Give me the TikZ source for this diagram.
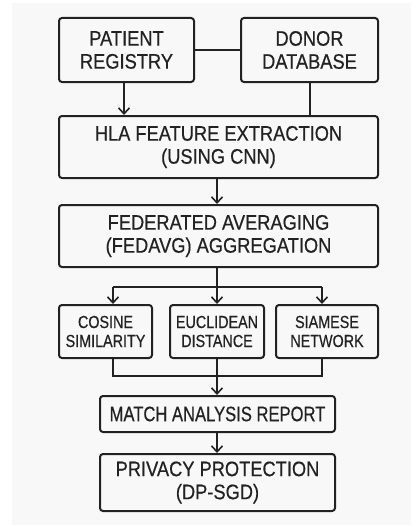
\documentclass[tikz,border=0pt]{standalone}
\usepackage{fontspec}
\setmainfont{Liberation Sans}[FakeStretch=0.87,FakeBold=0.5]
\newfontfamily\narrowfont{Liberation Sans}[FakeStretch=0.79,FakeBold=0.5]
\newfontfamily\smallfont{Liberation Sans}[FakeStretch=0.82,FakeBold=0.5]
\usetikzlibrary{arrows.meta}
\definecolor{ink}{HTML}{222222}
\definecolor{bg}{HTML}{F8F8F8}
\tikzset{
  box/.style={draw=ink, line width=2pt, rounded corners=3pt, align=center, inner sep=0pt, text=ink},
  bigtxt/.style={font=\fontsize{21}{23}\selectfont},
  matchtxt/.style={font=\narrowfont\fontsize{21}{23}\selectfont},
  smalltxt/.style={font=\smallfont\fontsize{17.5}{19}\selectfont},
  conn/.style={draw=ink, line width=2pt},
  arr/.style={conn, -{Straight Barb[length=6pt,width=11pt,line width=1.6pt]}},
}
\begin{document}
\begin{tikzpicture}[x=1pt,y=-1pt]
\useasboundingbox (0,0) rectangle (411,527);
\fill[white] (0,0) rectangle (411,527);
\fill[bg] (12,3) rectangle (411,525);
% boxes
\node[box,bigtxt,minimum width=135pt,minimum height=64pt] (pat) at (126.5,50) {PATIENT\\REGISTRY};
\node[box,bigtxt,minimum width=137pt,minimum height=64pt] (don) at (309.5,50) {DONOR\\DATABASE};
\node[box,bigtxt,minimum width=319pt,minimum height=62pt] (hla) at (218.5,147) {HLA FEATURE EXTRACTION\\(USING CNN)};
\node[box,bigtxt,minimum width=319pt,minimum height=62pt] (fed) at (218.5,236) {FEDERATED AVERAGING\\(FEDAVG) AGGREGATION};
\node[box,smalltxt,minimum width=93pt,minimum height=53pt] (cos) at (105.5,331.5) {COSINE\\SIMILARITY};
\node[box,smalltxt,minimum width=94pt,minimum height=53pt] (euc) at (217,331.5) {EUCLIDEAN\\DISTANCE};
\node[box,smalltxt,minimum width=102pt,minimum height=53pt] (sia) at (327,331.5) {SIAMESE\\NETWORK};
\node[box,matchtxt,minimum width=235pt,minimum height=36pt] (mat) at (217.5,414) {MATCH ANALYSIS REPORT};
\node[box,bigtxt,minimum width=235pt,minimum height=57pt] (pri) at (217.5,482.5) {PRIVACY PROTECTION\\(DP-SGD)};
% helper coordinates
\coordinate (b1) at (217,287);
\coordinate (bl) at (113,287);
\coordinate (br) at (322,287);
\coordinate (m1) at (217,376);
\coordinate (ml) at (113,376);
\coordinate (mr) at (322,376);
% connectors
\draw[conn] (pat.east) -- (don.west);
\draw[arr] (pat.south -| 124,0) -- (hla.north -| 124,0);
\draw[conn] (don.south -| 310,0) -- (hla.north -| 310,0);
\draw[arr] (hla.south -| b1) -- (fed.north -| b1);
\draw[conn] (fed.south -| b1) -- (b1);
\draw[conn] (bl) -- (br);
\draw[arr] (bl) -- (cos.north -| bl);
\draw[arr] (b1) -- (euc.north -| b1);
\draw[arr] (br) -- (sia.north -| br);
\draw[conn] (cos.south -| ml) -- (ml) -- (mr) -- (sia.south -| mr);
\draw[conn] (euc.south -| m1) -- (m1);
\draw[arr] (m1) -- (mat.north -| m1);
\draw[arr] (mat.south -| m1) -- (pri.north -| m1);
\end{tikzpicture}
\end{document}
